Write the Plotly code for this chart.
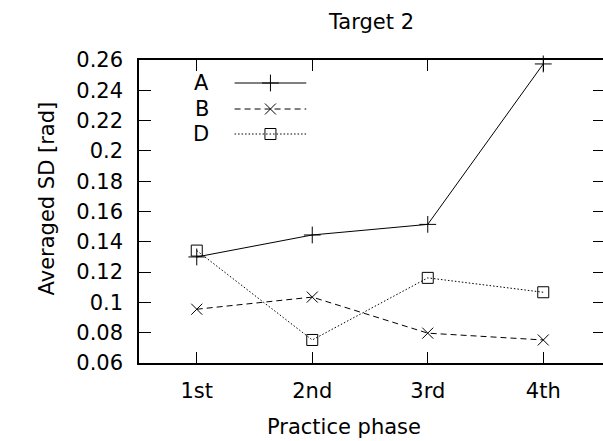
import plotly.graph_objects as go

phases = ["1st", "2nd", "3rd", "4th"]
series_names = ["A", "B", "D"]
values_A = [0.130, 0.1445, 0.1515, 0.2574]
values_B = [0.0955, 0.1035, 0.0797, 0.0752]
values_D = [0.1342, 0.0752, 0.1162, 0.1067]
y_ticks = [0.06, 0.08, 0.10, 0.12, 0.14, 0.16, 0.18, 0.20, 0.22, 0.24, 0.26]
y_tick_labels = ["0.06", "0.08", "0.1", "0.12", "0.14", "0.16", "0.18", "0.2", "0.22", "0.24", "0.26"]

styles = {
    "A": dict(dash="solid", symbol="cross-thin-open", size=12),
    "B": dict(dash="6px,4px", symbol="x-thin-open", size=11),
    "D": dict(dash="1.5px,2px", symbol="square-open", size=11),
}
data = {"A": values_A, "B": values_B, "D": values_D}

FONT = "DejaVu Sans, Liberation Sans, Arial, sans-serif"
FS = 21
W, H = 607, 441
L, R, T, B = 139, 0, 60, 78
XMAX = 0.5 + (W - L) / 116.0

fig = go.Figure()
xs = [1, 2, 3, 4]
for name in series_names:
    st = styles[name]
    fig.add_trace(go.Scatter(
        x=xs, y=data[name], mode="lines+markers", name=name, showlegend=False,
        line=dict(color="black", width=1, dash=st["dash"]),
        marker=dict(symbol=st["symbol"], size=st["size"], color="black",
                    line=dict(color="black", width=1)),
        cliponaxis=False,
    ))

# manual gnuplot-style key (text left of sample) on an overlay pixel axis
key_rows = [23, 49, 74]
for name, yk in zip(series_names, key_rows):
    st = styles[name]
    fig.add_trace(go.Scatter(
        x=[96, 168], y=[yk, yk], mode="lines", xaxis="x2", yaxis="y2", showlegend=False,
        line=dict(color="black", width=1, dash=st["dash"]), hoverinfo="skip"))
    fig.add_trace(go.Scatter(
        x=[132], y=[yk], mode="markers", xaxis="x2", yaxis="y2", showlegend=False,
        marker=dict(symbol=st["symbol"], size=st["size"], color="black",
                    line=dict(color="black", width=1)), hoverinfo="skip"))
    fig.add_annotation(x=72, y=yk, xref="x2", yref="y2", text=name, showarrow=False,
                       xanchor="right", yanchor="middle",
                       font=dict(family=FONT, size=FS, color="black"))

fig.update_layout(
    width=W, height=H,
    margin=dict(l=L, r=R, t=T, b=B, pad=0),
    paper_bgcolor="white", plot_bgcolor="white",
    font=dict(family=FONT, size=FS, color="black"),
    xaxis=dict(range=[0.5, XMAX], tickmode="array", tickvals=xs, ticktext=phases,
               ticks="inside", ticklen=11, tickcolor="black", tickwidth=1,
               showline=True, linecolor="black", linewidth=1.5, mirror="ticks",
               showgrid=False, zeroline=False, ticklabelstandoff=8,
               tickfont=dict(family=FONT, size=FS, color="black")),
    yaxis=dict(range=[0.06, 0.26], tickmode="array", tickvals=y_ticks, ticktext=y_tick_labels,
               ticks="inside", ticklen=12, tickcolor="black", tickwidth=1,
               showline=True, linecolor="black", linewidth=1.5, mirror="ticks",
               showgrid=False, zeroline=False, ticklabelstandoff=10,
               tickfont=dict(family=FONT, size=FS, color="black")),
    xaxis2=dict(range=[0, W - L], overlaying="x", visible=False, fixedrange=True),
    yaxis2=dict(range=[303, 0], overlaying="y", visible=False, fixedrange=True),
)

fig.add_annotation(x=372, y=22, xref="paper", yref="paper", text="Target 2",
                   showarrow=False, xanchor="center", yanchor="middle",
                   font=dict(family=FONT, size=FS, color="black"))
fig.add_annotation(x=345, y=427, xref="paper", yref="paper", text="Practice phase",
                   showarrow=False, xanchor="center", yanchor="middle",
                   font=dict(family=FONT, size=FS, color="black"))
fig.add_annotation(x=47, y=198, xref="paper", yref="paper", text="Averaged SD [rad]",
                   showarrow=False, xanchor="center", yanchor="middle", textangle=-90,
                   font=dict(family=FONT, size=FS, color="black"))

# convert full-figure pixel positions to plot-area paper coords
for ann in fig.layout.annotations:
    if ann.xref == "paper":
        px, py = ann.x, ann.y
        ann.x = (px - L) / (W - L - R)
        ann.y = 1 - (py - T) / (H - T - B)

fig.write_html("out.html", config={"displayModeBar": False},
               post_script="document.body.style.margin='0';document.body.style.overflow='hidden';")
